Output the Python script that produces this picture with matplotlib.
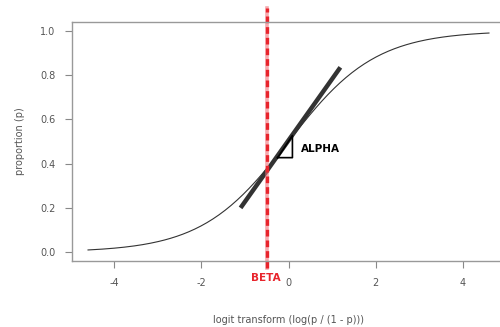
import numpy as np
import matplotlib.pyplot as plt

# logistic curve sampled on the logit scale
logit_x = np.linspace(-4.6, 4.6, 200)
proportion = 1 / (1 + np.exp(-logit_x))

beta = -0.5
tangent_x = [-1.1, 1.19]
tangent_y = [0.20, 0.835]
triangle_x = [-0.25, 0.09, 0.09, -0.25]
triangle_y = [0.427, 0.427, 0.527, 0.427]

x_ticks = [-4, -2, 0, 2, 4]
y_ticks = [0.0, 0.2, 0.4, 0.6, 0.8, 1.0]

fig = plt.figure(figsize=(5, 3.27), dpi=100)
ax = fig.add_axes([0.144, 0.2018, 0.866, 0.731])

ax.plot(logit_x, proportion, color="#333333", lw=0.8)
ax.plot(tangent_x, tangent_y, color="#333333", lw=3.2, solid_capstyle="butt")
ax.plot(triangle_x, triangle_y, color="black", lw=1.2)
# light red band under a finer dashed red line
ax.plot([beta, beta], [-0.073, 1.105], color="#f07078", lw=2.6,
        alpha=0.6, clip_on=False)
ax.plot([beta, beta], [-0.073, 1.105], color="#e8242c", lw=2.4,
        ls=(0, (2, 1.2)), clip_on=False)

ax.text(0.28, 0.465, "ALPHA", fontsize=7.5, fontweight="bold", va="center")
ax.text(beta - 0.03, -0.118, "BETA", fontsize=7.5, fontweight="bold",
        color="#e8242c", ha="center", va="center", clip_on=False)

ax.set_xlim(-4.968, 4.968)
ax.set_ylim(-0.04, 1.04)
ax.set_xticks(x_ticks)
ax.set_yticks(y_ticks)
ax.set_xticklabels([str(t) for t in x_ticks])
ax.set_yticklabels([f"{t:.1f}" for t in y_ticks])
ax.tick_params(colors="#888888", labelcolor="#555555", labelsize=7,
               length=5, width=0.8, direction="out", pad=7)

for side in ["left", "top", "bottom"]:
    ax.spines[side].set_color("#999999")
    ax.spines[side].set_linewidth(1.0)
ax.spines["right"].set_visible(False)

ax.set_xlabel("logit transform (log(p / (1 - p)))", fontsize=7,
              color="#555555", labelpad=20)
ax.set_ylabel("proportion (p)", fontsize=7, color="#555555", labelpad=11)

fig.savefig("out.png", dpi=100)
